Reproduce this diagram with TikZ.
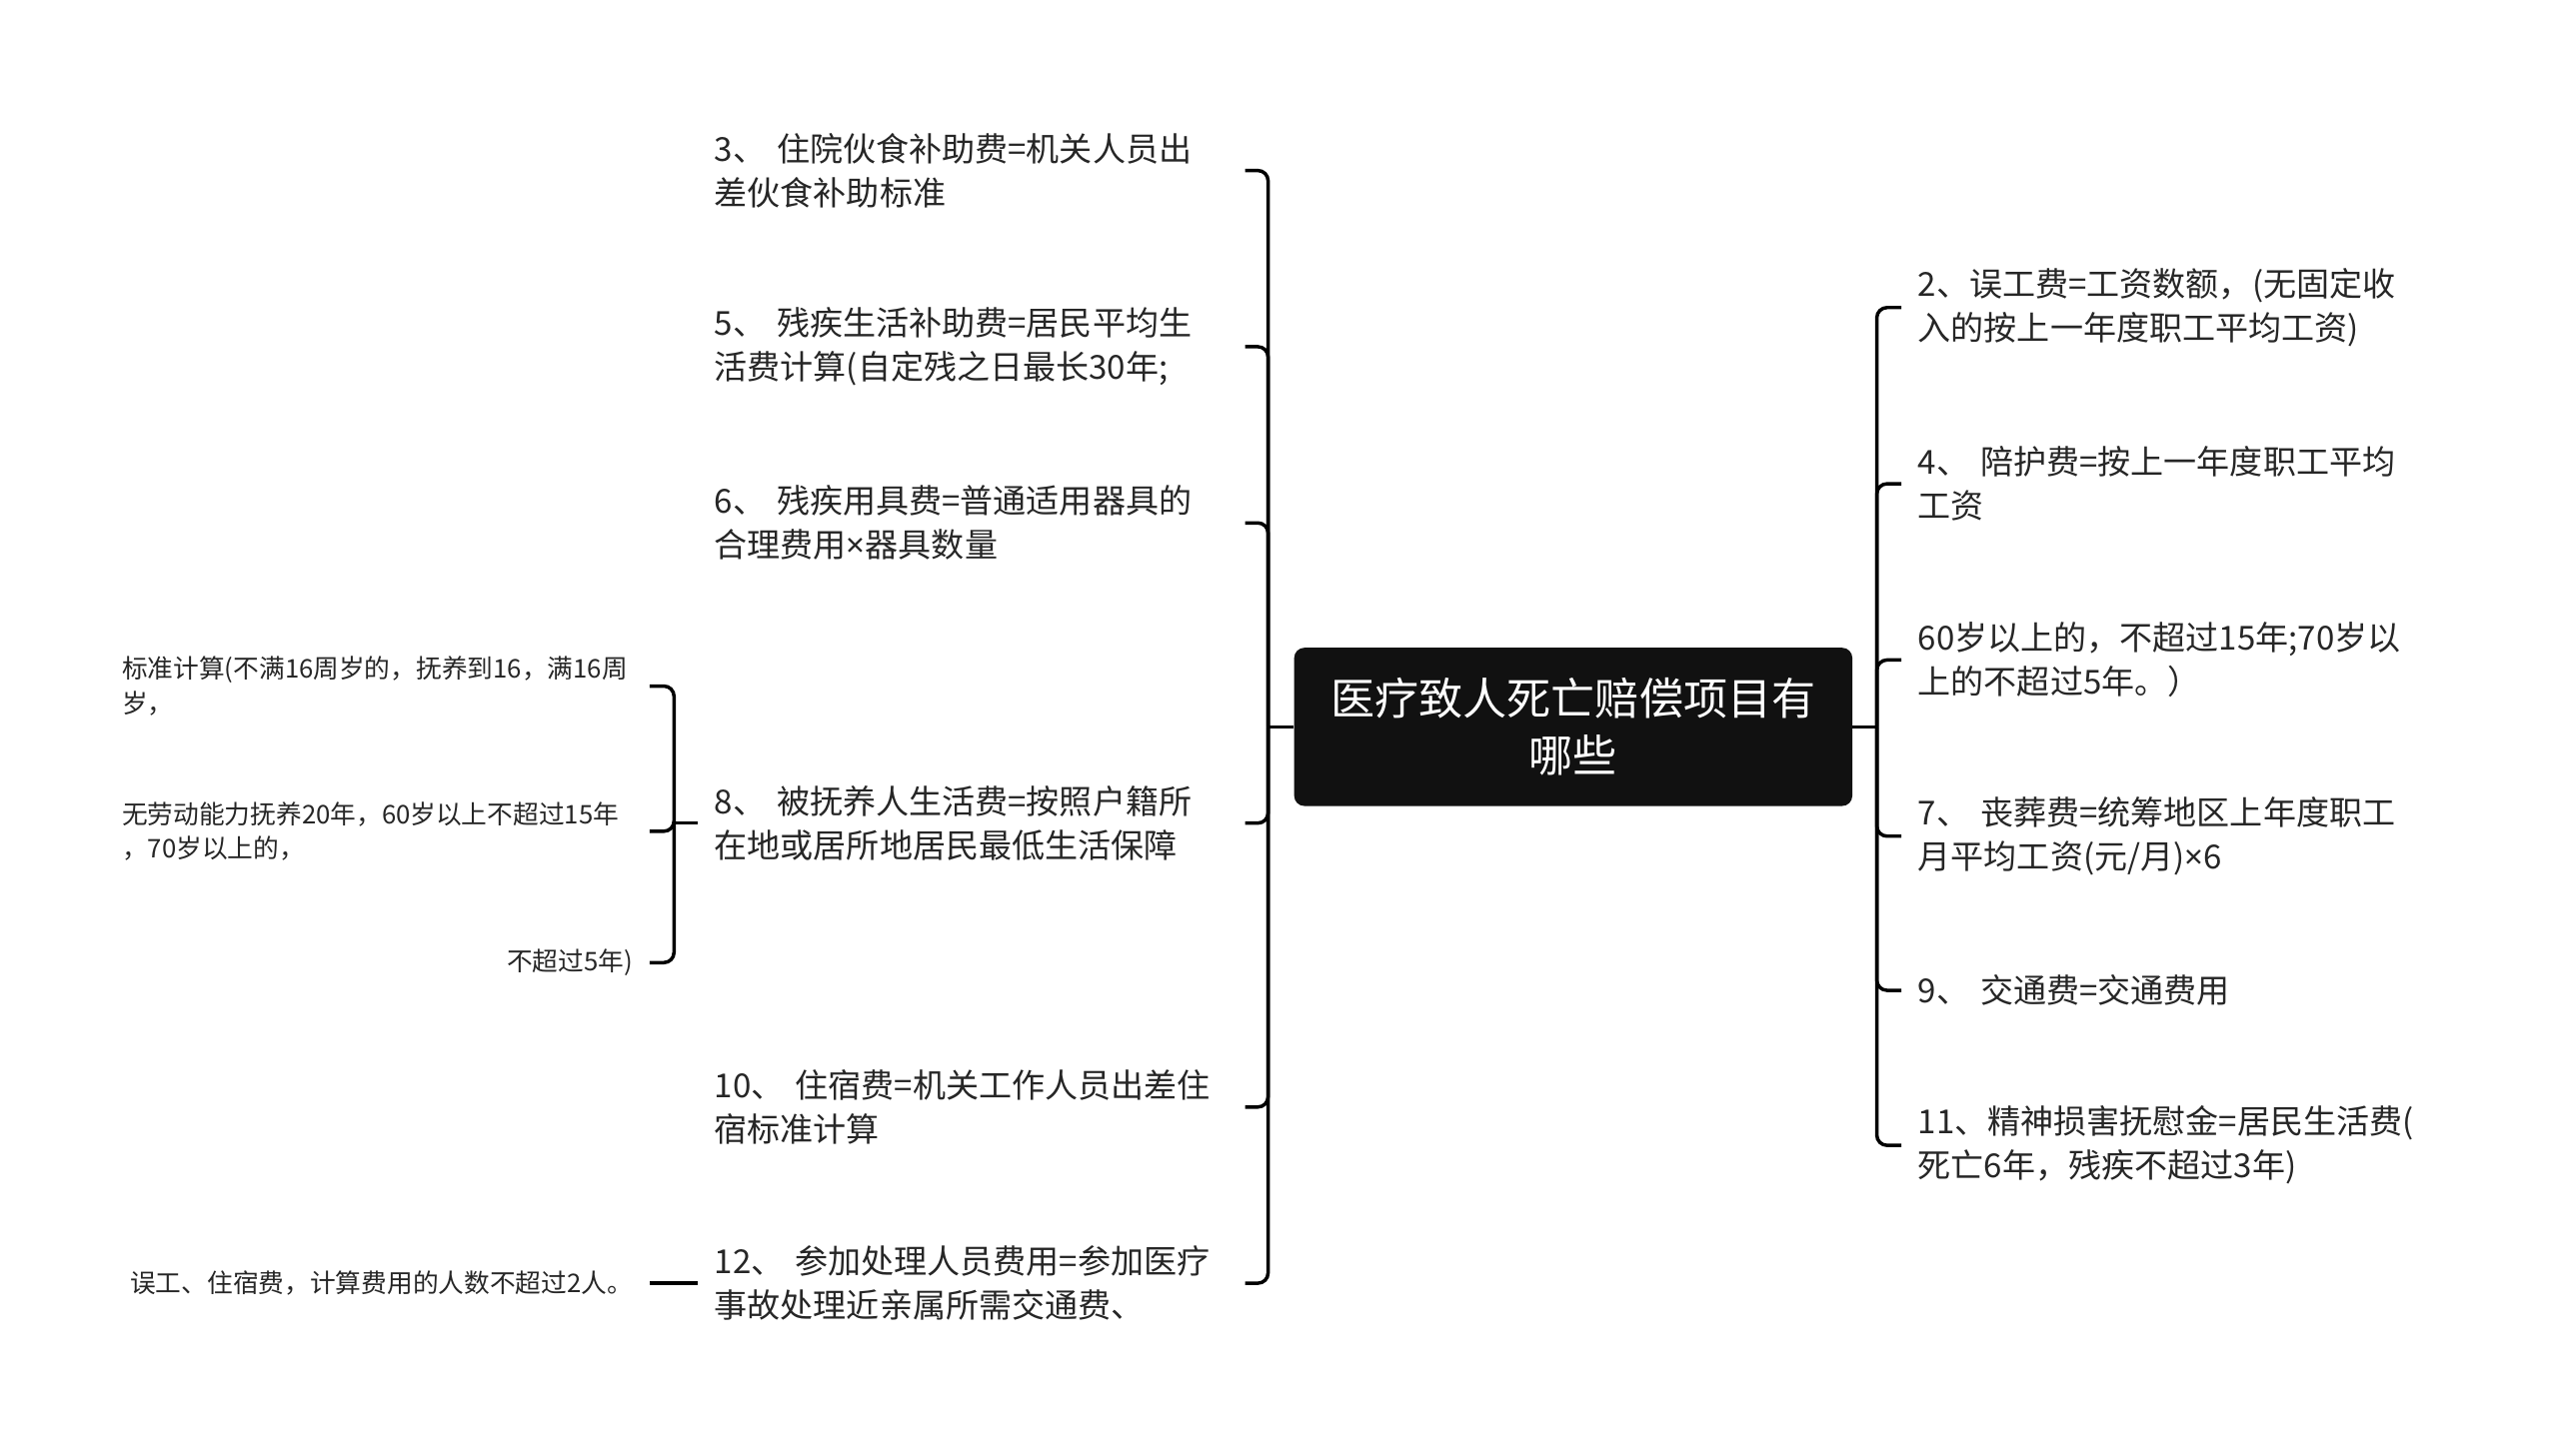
\documentclass[tikz,border=0pt]{standalone}
\usepackage{fontspec}
\setmainfont{Noto Sans CJK SC}
\newfontfamily\latinfont{Noto Sans}
\usetikzlibrary{positioning}

\definecolor{rootfill}{HTML}{111111}
\definecolor{itemtext}{HTML}{262626}

\tikzset{
  root/.style={fill=rootfill, text=white, rounded corners=5pt, minimum width=273.6pt, minimum height=77.6pt, align=center, font=\fontsize{21.6}{28}\selectfont},
  item/.style={text=itemtext, text width=252pt, inner xsep=8pt, inner ysep=0pt, align=left, font=\fontsize{16.2}{21.6}\selectfont},
  subitem/.style={text=itemtext, inner xsep=8pt, inner ysep=0pt, font=\fontsize{12.6}{16.8}\selectfont},
  branch/.style={line width=1.7pt, rounded corners=5pt},
}

\begin{document}
\begin{tikzpicture}[x=0.8pt, y=-0.8pt]
\useasboundingbox (0,0) rectangle (1568,892);

% Root
\node[root] (root) at (964,445.5) {医疗致人死亡赔偿项目有\\哪些};
\coordinate (lj) at (777,445.5);
\coordinate (rj) at (1150,445.5);
\draw[branch] (root.west) -- (lj);
\draw[branch] (root.east) -- (rj);

% Left items
\node[item, anchor=east] (i3) at (763,104.5) {3、~住院伙食补助费=机关人员出\\差伙食补助标准};
\node[item, anchor=east] (i5) at (763,212.5) {5、~残疾生活补助费=居民平均生\\活费计算(自定残之日最长30年;};
\node[item, anchor=east] (i6) at (763,320.5) {6、~残疾用具费=普通适用器具的\\合理费用{\latinfont ×}器具数量};
\node[item, anchor=east] (i8) at (763,504.5) {8、~被抚养人生活费=按照户籍所\\在地或居所地居民最低生活保障};
\node[item, anchor=east] (i10) at (763,678.5) {10、~住宿费=机关工作人员出差住\\宿标准计算};
\node[item, anchor=east] (i12) at (763,786.5) {12、~参加处理人员费用=参加医疗\\事故处理近亲属所需交通费、};

\foreach \n in {i3,i5,i6,i8,i10,i12}
  \draw[branch] (lj) |- (\n.east);

% Right items
\node[item, anchor=west] (i2) at (1165,188.5) {2、误工费=工资数额，(无固定收\\入的按上一年度职工平均工资)};
\node[item, anchor=west] (i4) at (1165,296.5) {4、~陪护费=按上一年度职工平均\\工资};
\node[item, anchor=west] (i60) at (1165,404.5) {60岁以上的，不超过15年;70岁以\\上的不超过5年。）};
\node[item, anchor=west] (i7) at (1165,512.5) {7、~丧葬费=统筹地区上年度职工\\月平均工资(元/月){\latinfont ×}6};
\node[item, anchor=west] (i9) at (1165,607) {9、~交通费=交通费用};
\node[item, anchor=west] (i11) at (1165,702) {11、精神损害抚慰金=居民生活费(\\死亡6年，残疾不超过3年)};

\foreach \n in {i2,i4,i60,i7,i9,i11}
  \draw[branch] (rj) |- (\n.west);

% Sub items of 8
\node[subitem, text width=250.4pt, align=left, anchor=east] (s1) at (398,420.5) {标准计算(不满16周岁的，抚养到16，满16周\\岁，};
\node[subitem, text width=250.4pt, align=left, anchor=east] (s2) at (398,509.5) {无劳动能力抚养20年，60岁以上不超过15年\\，70岁以上的，};
\node[subitem, text width=250.4pt, align=right, anchor=east] (s3) at (398,590) {不超过5年)};
\coordinate (sj) at (413,504.5);
\draw[branch] (i8.west) -- (sj);
\foreach \n in {s1,s2,s3}
  \draw[branch] (sj) |- (\n.east);

% Sub item of 12
\node[subitem, anchor=east] (s12) at (398,786.5) {误工、住宿费，计算费用的人数不超过2人。};
\draw[branch] (s12.east) -- (i12.west);

\end{tikzpicture}
\end{document}
